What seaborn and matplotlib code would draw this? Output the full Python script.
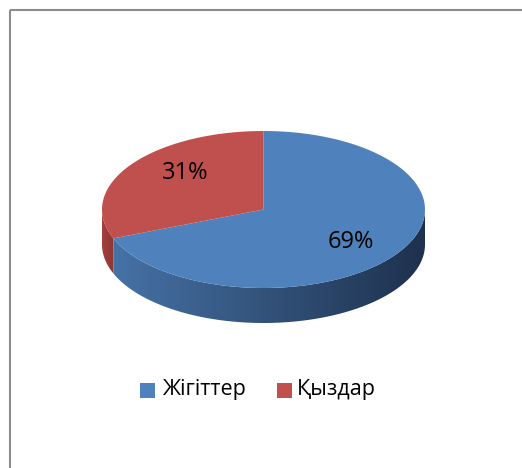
import numpy as np
import matplotlib.pyplot as plt
import seaborn as sns
from matplotlib.patches import Polygon, Rectangle
from matplotlib.colors import LinearSegmentedColormap

sns.set_style('white')
plt.rcParams['font.family'] = ['Open Sans', 'DejaVu Sans']

# data
labels = ['Жігіттер', 'Қыздар']
values = [69, 31]
top_colors = ['#4F81BD', '#C0504D']
side_colors = [('#4672A6', '#1E314D'), ('#A5403E', '#8E3532')]

# geometry of the 3d pie (pixel space)
cx, cy, rx, ry, depth = 263.5, 209.5, 161.5, 78.5, 35

fig = plt.figure(figsize=(5.22, 4.68), dpi=100)
ax = fig.add_axes([0, 0, 1, 1])
ax.set_xlim(0, 522)
ax.set_ylim(468, 0)
ax.axis('off')

# outer frame
ax.add_patch(Rectangle((9.5, 9.5), 520, 470, fill=False, ec='#8c8c8c', lw=1.5))


def ell(t, dy=0):
    return cx + rx * np.cos(t), cy - ry * np.sin(t) + dy


# slice angles: start at 12 o'clock, red goes counter-clockwise
fr = np.array(values) / sum(values)
red_start = np.pi / 2
red_end = red_start + 2 * np.pi * fr[1]
spans = {1: (red_start, red_end), 0: (red_end, red_start + 2 * np.pi)}

# sides (front half only: angles between pi and 2pi)
for i in [1, 0]:
    a0, a1 = spans[i]
    lo, hi = max(a0, np.pi), min(a1, 2 * np.pi)
    if hi <= lo:
        continue
    t = np.linspace(lo, hi, 200)
    x, y = ell(t)
    xb, yb = ell(t[::-1], depth)
    pts = np.column_stack([np.r_[x, xb], np.r_[y, yb]])
    poly = Polygon(pts, closed=True, fc='none', ec='none')
    ax.add_patch(poly)
    cmap = LinearSegmentedColormap.from_list('s%d' % i, side_colors[i])
    grad = np.linspace(0, 1, 256).reshape(1, -1)
    im = ax.imshow(grad, cmap=cmap, aspect='auto',
                   extent=[pts[:, 0].min(), pts[:, 0].max(), pts[:, 1].max(), pts[:, 1].min()],
                   zorder=1)
    im.set_clip_path(poly)

# tops
for i in [0, 1]:
    a0, a1 = spans[i]
    t = np.linspace(a0, a1, 300)
    x, y = ell(t)
    pts = np.column_stack([np.r_[cx, x], np.r_[cy, y]])
    ax.add_patch(Polygon(pts, closed=True, fc=top_colors[i], ec='none', zorder=2))

# percentage labels
for i, (px, py) in zip([1, 0], [(185, 173), (351, 242)]):
    ax.text(px, py, '%d%%' % values[i], ha='center', va='center',
            fontsize=17, color='black', zorder=3)

# legend
for i, (sx, tx) in enumerate([(140, 162), (277, 297)]):
    ax.add_patch(Rectangle((sx, 383), 15, 15, fc=top_colors[i], ec='none'))
    ax.text(tx, 390, labels[i], ha='left', va='center', fontsize=15.5, color='black')

fig.savefig('out.png', dpi=100)
